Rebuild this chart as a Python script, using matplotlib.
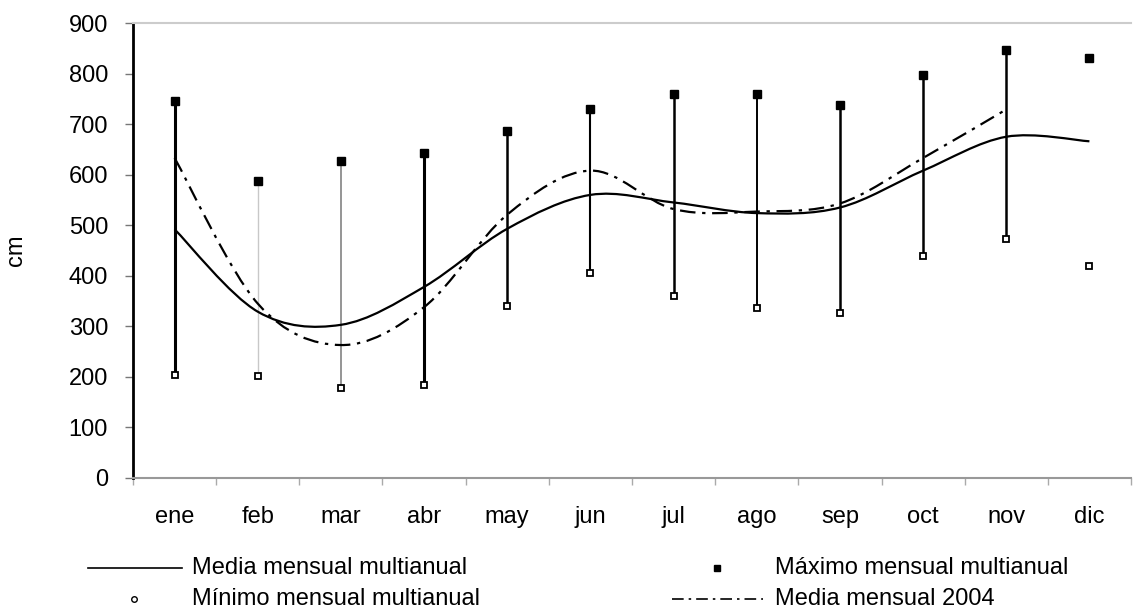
import matplotlib
matplotlib.use("Agg")
import matplotlib.pyplot as plt
from matplotlib.path import Path
from matplotlib.patches import PathPatch
from matplotlib.lines import Line2D
import numpy as np

months = ['ene', 'feb', 'mar', 'abr', 'may', 'jun', 'jul', 'ago', 'sep', 'oct', 'nov', 'dic']
maximo = [746, 587, 628, 643, 686, 729, 760, 760, 737, 798, 846, 831]
minimo = [204, 202, 179, 184, 340, 406, 360, 336, 326, 440, 473, 420]
media = [492, 329, 303, 378, 493, 560, 545, 524, 535, 608, 675, 666]
media_2004 = [633, 345, 263, 338, 521, 608, 532, 527, 543, 633, 729]

# style of the min-max bars, one per month (dic has no bar)
bar_colors = ['black', '#c8c8c8', '#8c8c8c', 'black', 'black', 'black',
              'black', 'black', 'black', 'black', 'black', None]
bar_widths = [2.2, 1.0, 1.3, 2.2, 1.8, 1.5, 1.8, 1.4, 1.8, 1.8, 1.8, 0]

plt.rcParams['font.family'] = ['Liberation Sans', 'DejaVu Sans']
FS = 17


def smooth_path(xs, ys):
    # Excel-style smoothed line: cubic bezier segments through the points
    pts = np.column_stack([xs, ys]).astype(float)
    n = len(pts)
    verts = [pts[0]]
    codes = [Path.MOVETO]
    for i in range(n - 1):
        p0 = pts[i - 1] if i > 0 else pts[i]
        p1 = pts[i]
        p2 = pts[i + 1]
        p3 = pts[i + 2] if i + 2 < n else pts[i + 1]
        c1 = p1 + (p2 - p0) / 6.0
        c2 = p2 - (p3 - p1) / 6.0
        verts += [c1, c2, p2]
        codes += [Path.CURVE4] * 3
    return Path(verts, codes)


fig = plt.figure(figsize=(11.4, 6.08), dpi=100)
W, H = 1140, 608
ax = fig.add_axes([133 / W, 1 - 478 / H, (1131 - 133) / W, (478 - 23) / H])

x = np.arange(len(months))

for i in range(len(months)):
    if bar_colors[i] is not None:
        ax.plot([x[i], x[i]], [minimo[i], maximo[i]], color=bar_colors[i],
                lw=bar_widths[i], solid_capstyle='butt', zorder=2)

ax.add_patch(PathPatch(smooth_path(x, media), fill=False, edgecolor='black',
                       lw=1.6, zorder=3))
ax.add_patch(PathPatch(smooth_path(x[:len(media_2004)], media_2004), fill=False,
                       edgecolor='black', lw=1.6, linestyle=(0, (7, 3, 1.5, 3)),
                       zorder=3))

ax.plot(x, maximo, 's', color='black', ms=6, zorder=4)
ax.plot(x, minimo, 's', mfc='white', mec='black', mew=1.3, ms=5, zorder=4)

ax.set_xlim(-0.5, 11.5)
ax.set_ylim(0, 900)
ax.set_yticks(range(0, 901, 100))
ax.set_xticks(x)
ax.set_xticklabels(months)
ax.set_xticks(np.arange(-0.5, 12, 1), minor=True)
ax.tick_params(axis='x', which='major', length=0, pad=20, labelsize=FS)
ax.tick_params(axis='x', which='minor', length=5, width=1, color='#aaaaaa', direction='out')
ax.tick_params(axis='y', length=6, width=1, color='#777777', labelsize=FS, pad=12)
ax.set_ylabel('cm', fontsize=FS)
ax.yaxis.set_label_coords((27 - 133) / 998, 0.5)

ax.spines['left'].set_linewidth(2)
ax.spines['left'].set_color('black')
ax.spines['bottom'].set_color('#999999')
ax.spines['bottom'].set_linewidth(1.5)
ax.spines['top'].set_color('#cccccc')
ax.spines['top'].set_linewidth(1.5)
ax.spines['right'].set_visible(False)


def fx(px):
    return px / W


def fy(py):
    return 1 - py / H


# legend, drawn by hand in two columns
fig.add_artist(Line2D([fx(88), fx(182)], [fy(568), fy(568)], color='black', lw=1.2))
fig.text(fx(192), fy(568), 'Media mensual multianual', fontsize=FS, va='center')
fig.add_artist(Line2D([fx(134)], [fy(599)], marker='o', mfc='white', mec='black',
                      mew=1, ms=4, linestyle='none'))
fig.text(fx(192), fy(599), 'Mínimo mensual multianual', fontsize=FS, va='center')
fig.add_artist(Line2D([fx(717)], [fy(568)], marker='s', color='black', ms=5,
                      linestyle='none'))
fig.text(fx(775), fy(568), 'Máximo mensual multianual', fontsize=FS, va='center')
fig.add_artist(Line2D([fx(672), fx(763)], [fy(599), fy(599)], color='black', lw=1.2,
                      linestyle=(0, (7, 3, 1.5, 3))))
fig.text(fx(775), fy(599), 'Media mensual 2004', fontsize=FS, va='center')

fig.savefig('out.png', dpi=100)
